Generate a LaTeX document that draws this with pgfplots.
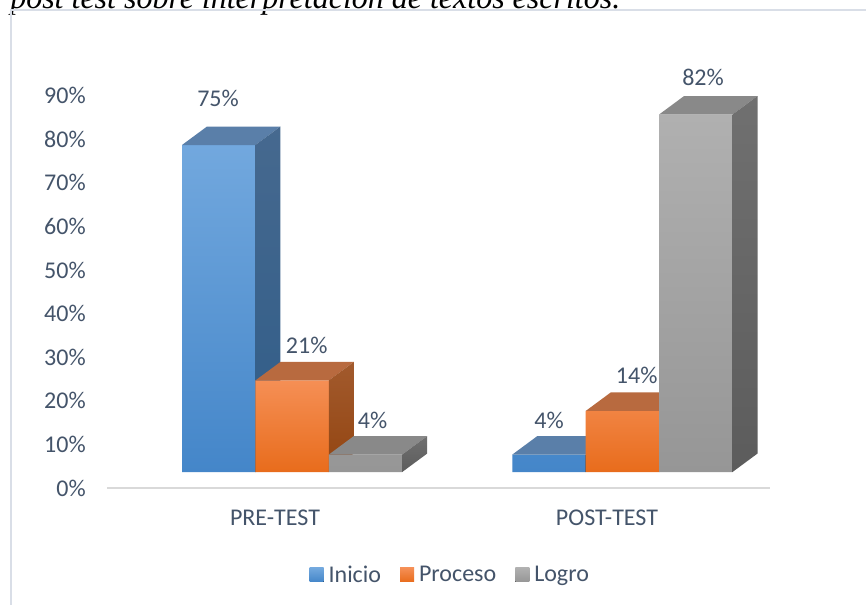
\documentclass[border=0pt]{standalone}
\usepackage{pgfplots}
\pgfplotsset{compat=1.18}
\usepackage{fontspec}
\setmainfont{Carlito}
\newfontfamily\capfont[ItalicFont={Liberation Serif Italic}]{Liberation Serif}
\definecolor{txt}{HTML}{44546A}
\definecolor{framec}{HTML}{D9DEE7}
\definecolor{floorc}{HTML}{D9D9D9}
\definecolor{blueT}{HTML}{72A8DE}
\definecolor{blueB}{HTML}{4486C9}
\definecolor{blueTop}{HTML}{5A7FA9}
\definecolor{blueS1}{HTML}{46698F}
\definecolor{blueS2}{HTML}{2F5C88}
\definecolor{oraT}{HTML}{F58F55}
\definecolor{oraB}{HTML}{E86C1C}
\definecolor{oraTop}{HTML}{B86A3F}
\definecolor{oraS1}{HTML}{A25A2D}
\definecolor{oraS2}{HTML}{934511}
\definecolor{greyT}{HTML}{B0B0B0}
\definecolor{greyB}{HTML}{969696}
\definecolor{greyTop}{HTML}{898989}
\definecolor{greyS1}{HTML}{707070}
\definecolor{greyS2}{HTML}{5C5C5C}
\newcommand{\chartfont}{\fontsize{18}{21}\selectfont}
\begin{document}
\begin{tikzpicture}
\path[use as bounding box, clip] (0,0) rectangle (649.5pt,-453pt);
\fill[white] (0,0) rectangle (649.5pt,-453pt);
\node[anchor=base west, inner sep=0pt, font=\capfont\itshape\fontsize{24}{28}\selectfont] at (7.5pt,-6pt) {post test sobre interpretación de textos escritos.};
\draw[framec, line width=1.1pt] (8.25pt,-460pt) -- (8.25pt,-7.5pt) -- (660pt,-7.5pt);
\begin{axis}[
  at={(80.25pt,-366pt)}, anchor=south west,
  width=497.25pt, height=322.65pt, scale only axis,
  xmin=107, xmax=770, ymin=-3.67, ymax=95,
  axis x line*=bottom, axis y line*=left,
  y axis line style={draw=none},
  x axis line style={draw=floorc, line width=1.1pt},
  major tick length=0pt,
  ytick={0,10,...,90},
  yticklabels={0\%,10\%,20\%,30\%,40\%,50\%,60\%,70\%,80\%,90\%},
  xtick={275,607},
  xticklabels={PRE-TEST,POST-TEST},
  tick label style={font=\chartfont, text=txt},
  yticklabel style={anchor=east, inner sep=0pt, xshift=-15.75pt, yshift=-12pt},
  xticklabel style={anchor=base, inner sep=0pt, yshift=-28.3pt},
  clip=false,
  legend columns=3,
  legend style={at={(0.520,-0.2022)}, anchor=center, draw=none, fill=none,
    font=\chartfont, text=txt,
    nodes={inner xsep=3.75pt, inner ysep=0pt},
    /tikz/every even column/.append style={column sep=10.5pt}},
]
% Inicio
\addplot[ybar, bar width=73.4, bar shift=0pt, draw=none, top color=blueT, bottom color=blueB,
  legend image code/.code={\fill[top color=blueT, bottom color=blueB] (0pt,-5.25pt) rectangle (10.5pt,5.25pt);}]
  coordinates {(218.7,75) (549,4)};
\addlegendentry{Inicio}
\addplot[forget plot, fill=blueTop, draw=none] coordinates {(182,75) (207,79.24) (280.4,79.24) (255.4,75)} --cycle;
\addplot[forget plot, top color=blueS1, bottom color=blueS2, draw=none] coordinates {(255.4,0) (280.4,4.24) (280.4,79.24) (255.4,75)} --cycle;
\addplot[forget plot, fill=blueTop, draw=none] coordinates {(512.3,4) (537.3,8.24) (610.7,8.24) (585.7,4)} --cycle;
\addplot[forget plot, top color=blueS1, bottom color=blueS2, draw=none] coordinates {(585.7,0) (610.7,4.24) (610.7,8.24) (585.7,4)} --cycle;
% Proceso
\addplot[ybar, bar width=73.4, bar shift=0pt, draw=none, top color=oraT, bottom color=oraB,
  legend image code/.code={\fill[top color=oraT, bottom color=oraB] (0pt,-5.25pt) rectangle (10.5pt,5.25pt);}]
  coordinates {(292.1,21) (622.4,14)};
\addlegendentry{Proceso}
\addplot[forget plot, fill=oraTop, draw=none] coordinates {(255.4,21) (280.4,25.24) (353.8,25.24) (328.8,21)} --cycle;
\addplot[forget plot, top color=oraS1, bottom color=oraS2, draw=none] coordinates {(328.8,0) (353.8,4.24) (353.8,25.24) (328.8,21)} --cycle;
\addplot[forget plot, fill=oraTop, draw=none] coordinates {(585.7,14) (610.7,18.24) (684.1,18.24) (659.1,14)} --cycle;
\addplot[forget plot, top color=oraS1, bottom color=oraS2, draw=none] coordinates {(659.1,0) (684.1,4.24) (684.1,18.24) (659.1,14)} --cycle;
% Logro
\addplot[ybar, bar width=73.4, bar shift=0pt, draw=none, top color=greyT, bottom color=greyB,
  legend image code/.code={\fill[top color=greyT, bottom color=greyB] (0pt,-5.25pt) rectangle (10.5pt,5.25pt);}]
  coordinates {(365.5,4) (695.8,82)};
\addlegendentry{Logro}
\addplot[forget plot, fill=greyTop, draw=none] coordinates {(328.8,4) (353.8,8.24) (427.2,8.24) (402.2,4)} --cycle;
\addplot[forget plot, top color=greyS1, bottom color=greyS2, draw=none] coordinates {(402.2,0) (427.2,4.24) (427.2,8.24) (402.2,4)} --cycle;
\addplot[forget plot, fill=greyTop, draw=none] coordinates {(659.1,82) (684.1,86.24) (757.5,86.24) (732.5,82)} --cycle;
\addplot[forget plot, top color=greyS1, bottom color=greyS2, draw=none] coordinates {(732.5,0) (757.5,4.24) (757.5,86.24) (732.5,82)} --cycle;
% data labels
\addplot[forget plot, draw=none, mark=none, nodes near coords, point meta=explicit symbolic,
  nodes near coords style={anchor=center, inner sep=0pt, font=\chartfont, text=txt}]
  coordinates {(218,85.8)[75\%] (306.7,29.1)[21\%] (372.5,11.9)[4\%] (549,11.9)[4\%] (636.7,22.2)[14\%] (703,90.4)[82\%]};
\end{axis}
\end{tikzpicture}
\end{document}
